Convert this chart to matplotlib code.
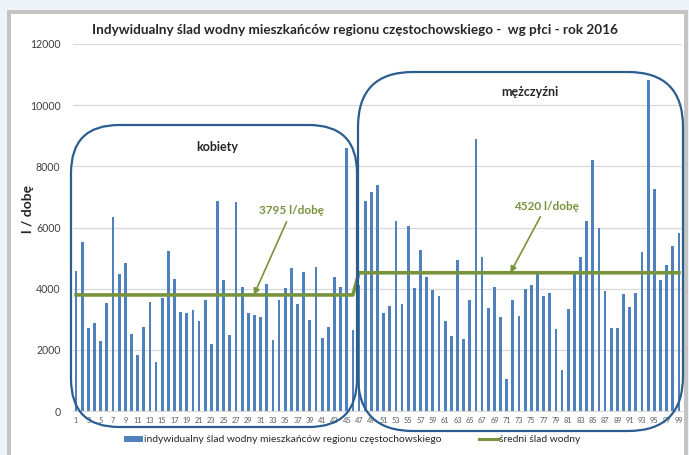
import matplotlib
matplotlib.use("Agg")
import matplotlib.pyplot as plt
from matplotlib.patches import FancyBboxPatch, Rectangle
from matplotlib.transforms import IdentityTransform
from matplotlib.lines import Line2D

plt.rcParams['font.family'] = ['Lato', 'DejaVu Sans']

# data
women = [4580, 5530, 2700, 2885, 2284, 3530, 6350, 4470, 4853, 2525,
         1825, 2754, 3574, 1618, 3694, 5235, 4317, 3224, 3213, 3300,
         2940, 3629, 2175, 6875, 4295, 2481, 6842, 4055, 3213, 3148,
         3060, 4153, 2328, 3640, 4022, 4689, 3498, 4547, 2973, 4711,
         2372, 2754, 4372, 4066, 8591, 2645]
men = [4120, 6875, 7159, 7400, 3191, 3421, 6219, 3508, 6033, 4022,
       5268, 4394, 3968, 3760, 2951, 2448, 4929, 2350, 3629, 8908,
       5028, 3377, 4066, 3060, 1049, 3640, 3093, 3990, 4120, 4580,
       3749, 3869, 2667, 1345, 3345, 4569, 5039, 6219, 8220, 5990,
       3935, 2710, 2721, 3815, 3399, 3858, 5203, 10821, 7268, 4295,
       4776, 5410, 5826]
avg_women = 3795
avg_men = 4520
values = women + men
persons = list(range(1, len(values) + 1))
averages = [avg_women] * len(women) + [avg_men] * len(men)

title = "Indywidualny ślad wodny mieszkańców regionu częstochowskiego -  wg płci - rok 2016"
bar_label = "indywidualny ślad wodny mieszkańców regionu częstochowskiego"
line_label = "średni ślad wodny"

W, H = 689, 455
blue = '#4f81bd'
green = '#77933c'
frame_blue = '#2c5d8f'

fig = plt.figure(figsize=(W / 100, H / 100), dpi=100)
fig.patch.set_facecolor('#edf3f9')


def px_rect(x0, y0, x1, y1, **kw):
    # pixel box (top-left origin) -> figure patch
    return FancyBboxPatch((x0, H - y1), x1 - x0, y1 - y0,
                          transform=IdentityTransform(), **kw)


fig.patches.append(px_rect(7, 10, 688, 460, boxstyle='square,pad=0',
                           facecolor='#c4c4c4', edgecolor='none', zorder=-10))
fig.patches.append(px_rect(11, 14, 684, 460, boxstyle='square,pad=0',
                           facecolor='white', edgecolor='none', zorder=-9))

ax = fig.add_axes([73 / W, (H - 411) / H, (682 - 73) / W, (411 - 44) / H])
ax.set_facecolor('none')

ax.bar(persons, values, width=0.45, color=blue, zorder=2)
ax.plot(persons, averages, color=green, lw=2.6, zorder=3)

ax.set_xlim(0.5, len(values) + 0.5)
ax.set_ylim(0, 12000)
ax.set_yticks(range(0, 12001, 2000))
ax.set_xticks(persons[::2])
ax.set_xticklabels([str(p) for p in persons[::2]], fontsize=5.3, color='#595959')
ax.tick_params(axis='x', length=0, pad=4)
ax.tick_params(axis='y', length=0, pad=9, labelsize=7.6, labelcolor='#404040')
ax.grid(axis='y', color='#d9d9d9', lw=0.9, zorder=0)
for s in ['top', 'right', 'left']:
    ax.spines[s].set_visible(False)
ax.spines['bottom'].set_color('#d9d9d9')

ax.set_ylabel("l / dobę", fontsize=10, fontweight='bold', color='#262626')
ax.yaxis.set_label_coords(-0.064, 0.55)

fig.text(355 / W, 1 - 30 / H, title, ha='center', va='center',
         fontsize=9.7, fontweight='bold', color='#262626')

# group frames
fig.patches.append(px_rect(71, 125, 357, 427,
                           boxstyle='round,pad=0,rounding_size=48',
                           facecolor='none', edgecolor=frame_blue, lw=1.6, zorder=5))
fig.patches.append(px_rect(358, 72, 683, 431,
                           boxstyle='round,pad=0,rounding_size=55',
                           facecolor='none', edgecolor=frame_blue, lw=1.6, zorder=5))

ax.text(23.9, 8630, "kobiety", ha='center', va='center', fontsize=9,
        fontweight='bold', color='#262626')
ax.text(74.8, 10430, "mężczyźni", ha='center', va='center', fontsize=9,
        fontweight='bold', color='#262626')

arrow = dict(arrowstyle='-|>', color=green, lw=1.2, mutation_scale=9, shrinkA=2, shrinkB=0)
ax.annotate(f"{avg_women} l/dobę", xy=(29.9, avg_women), xytext=(36, 6540),
            ha='center', va='center', fontsize=8.5, fontweight='bold', color=green,
            arrowprops=arrow, zorder=6)
ax.annotate(f"{avg_men} l/dobę", xy=(71.6, avg_men), xytext=(77.4, 6700),
            ha='center', va='center', fontsize=8.5, fontweight='bold', color=green,
            arrowprops=arrow, zorder=6)

handles = [Rectangle((0, 0), 1, 1, facecolor=blue, edgecolor='none'),
           Line2D([], [], color=green, lw=2.2)]
fig.legend(handles, [bar_label, line_label], loc='center', ncol=2,
           bbox_to_anchor=(352 / W, 1 - 440 / H), frameon=False, fontsize=7.4,
           handlelength=1.9, handleheight=0.6, handletextpad=0.1, columnspacing=3.6,
           labelcolor='#262626')

fig.savefig("out.png", dpi=100, facecolor=fig.get_facecolor())
